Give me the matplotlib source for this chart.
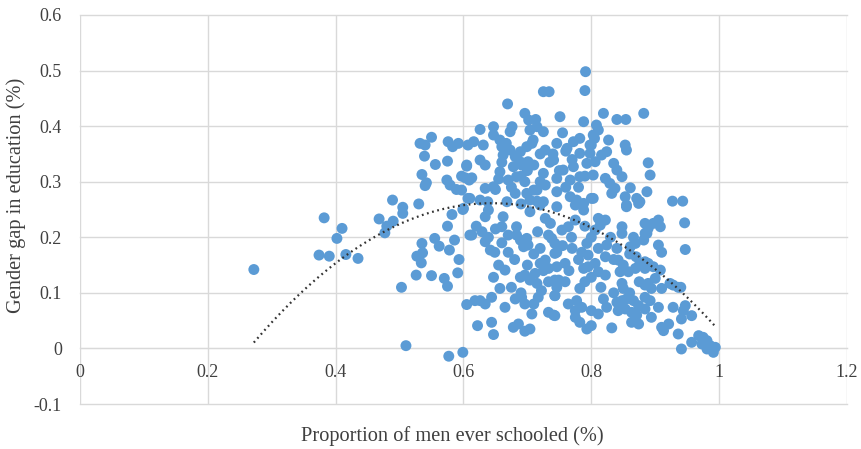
import numpy as np
import matplotlib.pyplot as plt
from matplotlib.ticker import FuncFormatter

# proportion of men ever schooled / gender gap in education
men_schooled = [
    0.272, 0.382, 0.410, 0.402, 0.374, 0.390, 0.416, 0.435, 0.468, 0.489, 0.505, 0.505,
    0.490, 0.480, 0.477, 0.530, 0.582, 0.575, 0.599, 0.610, 0.555, 0.562, 0.535, 0.536,
    0.527, 0.534, 0.578, 0.586, 0.593, 0.591, 0.526, 0.550, 0.570, 0.575, 0.503, 0.605,
    0.510, 0.577, 0.599,
    0.550, 0.532, 0.540, 0.539, 0.556, 0.576, 0.583, 0.592, 0.575, 0.535, 0.542, 0.540,
    0.574, 0.579, 0.589, 0.597, 0.605, 0.609, 0.607, 0.607,
    0.669, 0.626, 0.647, 0.647, 0.676, 0.673, 0.696, 0.702, 0.704, 0.616, 0.631, 0.657,
    0.660, 0.667, 0.673, 0.662, 0.681, 0.689, 0.699, 0.707, 0.678, 0.691, 0.701, 0.626,
    0.634, 0.605, 0.613, 0.603, 0.657, 0.670, 0.683, 0.696, 0.634, 0.647, 0.650, 0.681,
    0.699, 0.597, 0.610, 0.626, 0.638, 0.668, 0.704,
    0.791, 0.790, 0.725, 0.734, 0.751, 0.788, 0.755, 0.713, 0.715, 0.725, 0.709, 0.728,
    0.746, 0.762, 0.772, 0.782, 0.782, 0.798, 0.805, 0.741, 0.756, 0.772, 0.793, 0.725,
    0.728, 0.746, 0.767, 0.782, 0.803, 0.715, 0.746, 0.767, 0.777, 0.803, 0.725, 0.746,
    0.600, 0.634, 0.639, 0.662, 0.660, 0.683, 0.704, 0.720, 0.728, 0.736, 0.613, 0.629,
    0.639, 0.634, 0.642, 0.649, 0.670, 0.683, 0.689, 0.699, 0.694, 0.701, 0.670, 0.716,
    0.733, 0.738, 0.743, 0.746, 0.720, 0.728, 0.733, 0.655, 0.665, 0.647, 0.689, 0.696,
    0.704, 0.712, 0.715, 0.722, 0.717, 0.657, 0.681, 0.691, 0.696, 0.733, 0.743, 0.743,
    0.618, 0.626, 0.634, 0.644, 0.665, 0.707, 0.733, 0.741, 0.622, 0.644, 0.647, 0.678,
    0.686, 0.696, 0.704,
    0.819, 0.840, 0.854, 0.882, 0.808, 0.811, 0.803, 0.827, 0.853, 0.855, 0.889, 0.892,
    0.835, 0.840, 0.848, 0.824, 0.816, 0.800, 0.798, 0.806, 0.822, 0.829, 0.837, 0.832,
    0.861, 0.853, 0.887, 0.871, 0.876, 0.855, 0.800,
    0.775, 0.788, 0.788, 0.855, 0.874, 0.811, 0.822, 0.814, 0.806, 0.775, 0.764, 0.754,
    0.769, 0.848, 0.848, 0.866, 0.869, 0.861, 0.884, 0.887, 0.882, 0.793, 0.785, 0.795,
    0.811, 0.822, 0.824, 0.759, 0.743, 0.746, 0.842, 0.850, 0.845, 0.858, 0.869, 0.876,
    0.884, 0.788, 0.795, 0.806, 0.811, 0.822, 0.800, 0.749, 0.759, 0.743, 0.746, 0.782,
    0.790, 0.848, 0.850, 0.884, 0.764, 0.777, 0.785, 0.775, 0.819, 0.824, 0.811, 0.800,
    0.840, 0.848, 0.855, 0.866, 0.874, 0.884, 0.842, 0.853, 0.863, 0.871, 0.863, 0.874,
    0.775, 0.782, 0.793, 0.800, 0.832, 0.743,
    0.927, 0.943, 0.946, 0.947, 0.905, 0.908, 0.897, 0.889, 0.884, 0.905, 0.910, 0.889,
    0.897, 0.884, 0.908, 0.900, 0.889, 0.894, 0.910, 0.923, 0.928, 0.936, 0.940, 0.892,
    0.905, 0.884, 0.894, 0.928, 0.947, 0.944, 0.957, 0.941, 0.910, 0.921, 0.913, 0.936,
    0.941, 0.957, 0.968, 0.975, 0.981, 0.986, 0.994, 0.991, 0.981, 0.973,
    0.720, 0.710, 0.690, 0.700, 0.720, 0.690, 0.710, 0.735, 0.740, 0.750, 0.660, 0.655,
    0.675, 0.690, 0.715, 0.760, 0.770, 0.790, 0.780, 0.760,
    0.770, 0.780, 0.765, 0.755, 0.800, 0.790, 0.830, 0.840, 0.835, 0.860, 0.870, 0.875,
    0.860, 0.835, 0.815, 0.680, 0.700, 0.710, 0.720, 0.660, 0.675, 0.690, 0.710, 0.725,
    0.650, 0.620,
]
gender_gap = [
    0.142, 0.235, 0.216, 0.198, 0.168, 0.166, 0.169, 0.162, 0.233, 0.267, 0.254, 0.243,
    0.229, 0.220, 0.208, 0.260, 0.241, 0.220, 0.250, 0.204, 0.198, 0.184, 0.189, 0.172,
    0.166, 0.154, 0.177, 0.195, 0.160, 0.136, 0.132, 0.131, 0.126, 0.112, 0.110, 0.079,
    0.005, -0.014, -0.007,
    0.380, 0.369, 0.366, 0.346, 0.331, 0.372, 0.363, 0.369, 0.337, 0.313, 0.298, 0.293,
    0.303, 0.294, 0.286, 0.310, 0.328, 0.303, 0.270, 0.366,
    0.440, 0.394, 0.399, 0.384, 0.399, 0.390, 0.423, 0.411, 0.393, 0.372, 0.366, 0.375,
    0.363, 0.369, 0.357, 0.348, 0.345, 0.354, 0.363, 0.369, 0.327, 0.330, 0.336, 0.339,
    0.330, 0.330, 0.307, 0.307, 0.318, 0.303, 0.309, 0.300, 0.288, 0.291, 0.286, 0.279,
    0.279, 0.285, 0.270, 0.267, 0.264, 0.264, 0.267,
    0.498, 0.464, 0.462, 0.462, 0.417, 0.408, 0.388, 0.412, 0.399, 0.390, 0.375, 0.357,
    0.369, 0.360, 0.372, 0.378, 0.351, 0.366, 0.378, 0.339, 0.321, 0.327, 0.333, 0.315,
    0.294, 0.306, 0.303, 0.309, 0.312, 0.285, 0.282, 0.273, 0.267, 0.270, 0.264, 0.255,
    0.252, 0.237, 0.249, 0.237, 0.219, 0.219, 0.246, 0.258, 0.234, 0.225, 0.204, 0.210,
    0.200, 0.192, 0.177, 0.173, 0.204, 0.204, 0.195, 0.198, 0.183, 0.186, 0.173, 0.210,
    0.204, 0.198, 0.189, 0.173, 0.153, 0.159, 0.144, 0.150, 0.141, 0.128, 0.128, 0.132,
    0.123, 0.135, 0.117, 0.104, 0.092, 0.108, 0.089, 0.092, 0.080, 0.120, 0.123, 0.095,
    0.086, 0.086, 0.080, 0.092, 0.074, 0.062, 0.065, 0.060, 0.041, 0.047, 0.025, 0.038,
    0.044, 0.031, 0.035,
    0.423, 0.412, 0.412, 0.423, 0.402, 0.393, 0.384, 0.375, 0.366, 0.357, 0.334, 0.312,
    0.333, 0.321, 0.309, 0.354, 0.348, 0.366, 0.351, 0.336, 0.306, 0.297, 0.288, 0.279,
    0.289, 0.273, 0.282, 0.270, 0.264, 0.258, 0.270,
    0.258, 0.261, 0.249, 0.255, 0.261, 0.234, 0.231, 0.222, 0.213, 0.231, 0.219, 0.213,
    0.200, 0.219, 0.207, 0.200, 0.189, 0.183, 0.225, 0.207, 0.195, 0.189, 0.173, 0.168,
    0.180, 0.165, 0.186, 0.153, 0.171, 0.147, 0.159, 0.150, 0.138, 0.138, 0.144, 0.153,
    0.156, 0.144, 0.147, 0.153, 0.138, 0.132, 0.128, 0.123, 0.120, 0.095, 0.110, 0.108,
    0.120, 0.117, 0.108, 0.114, 0.080, 0.086, 0.074, 0.068, 0.089, 0.074, 0.062, 0.068,
    0.083, 0.086, 0.089, 0.086, 0.077, 0.071, 0.068, 0.071, 0.065, 0.060, 0.047, 0.044,
    0.056, 0.047, 0.035, 0.041, 0.037, 0.059,
    0.265, 0.265, 0.226, 0.178, 0.231, 0.219, 0.225, 0.216, 0.207, 0.186, 0.173, 0.153,
    0.147, 0.144, 0.141, 0.126, 0.117, 0.108, 0.108, 0.117, 0.114, 0.110, 0.110, 0.086,
    0.074, 0.092, 0.056, 0.074, 0.077, 0.068, 0.059, 0.053, 0.038, 0.044, 0.032, 0.026,
    -0.001, 0.011, 0.023, 0.020, 0.014, 0.005, 0.002, -0.007, -0.001, 0.008,
    0.350, 0.330, 0.335, 0.320, 0.300, 0.310, 0.285, 0.335, 0.350, 0.320, 0.335, 0.305,
    0.290, 0.260, 0.265, 0.290, 0.340, 0.310, 0.290, 0.355,
    0.180, 0.160, 0.140, 0.185, 0.200, 0.220, 0.200, 0.180, 0.160, 0.170, 0.165, 0.120,
    0.100, 0.100, 0.110, 0.160, 0.150, 0.170, 0.180, 0.190, 0.110, 0.100, 0.080, 0.140,
    0.215, 0.220,
]

# order-2 polynomial trendline, coefficients
trend_coef = [-1.811, 2.333, -0.490]

x = np.array(men_schooled)
y = np.array(gender_gap)

plt.rcParams['font.family'] = 'Liberation Serif'
plt.rcParams['axes.unicode_minus'] = False

fig = plt.figure(figsize=(8.61, 4.49), dpi=100)
ax = fig.add_axes([0.0929, 0.1002, 0.8908, 0.8664])

ax.scatter(x, y, s=62, color='#5B9BD5', edgecolors='none', zorder=3)

xt = np.linspace(x.min(), x.max(), 200)
ax.plot(xt, np.polyval(trend_coef, xt), color='#333333', lw=1.6,
        linestyle=(0, (0.8, 1.6)), zorder=4)

ax.set_xlim(0, 1.2)
ax.set_ylim(-0.1, 0.6)
ax.set_xticks(np.arange(0, 1.21, 0.2))
ax.set_yticks(np.arange(-0.1, 0.61, 0.1))
fmt = FuncFormatter(lambda v, p: '%g' % round(v, 1))
ax.xaxis.set_major_formatter(fmt)
ax.yaxis.set_major_formatter(fmt)

ax.grid(True, color='#d9d9d9', lw=1)
ax.set_axisbelow(True)
for ln in ax.get_xgridlines() + ax.get_ygridlines():
    ln.set_clip_on(False)

for s in ['top', 'right', 'left']:
    ax.spines[s].set_visible(False)
ax.spines['bottom'].set_position(('data', 0))
ax.spines['bottom'].set_color('#d9d9d9')

ax.tick_params(axis='both', length=0, labelsize=13, colors='#404040')
ax.tick_params(axis='x', pad=11)
ax.tick_params(axis='y', pad=13)

ax.set_ylabel('Gender gap in education (%)', fontsize=14.7, color='#404040')
ax.set_xlabel('Proportion of men ever schooled (%)', fontsize=14.7, color='#404040')
ax.yaxis.set_label_coords(-0.070, 0.537)
ax.xaxis.set_label_coords(0.485, -0.058)

fig.savefig('out.png', dpi=100)
